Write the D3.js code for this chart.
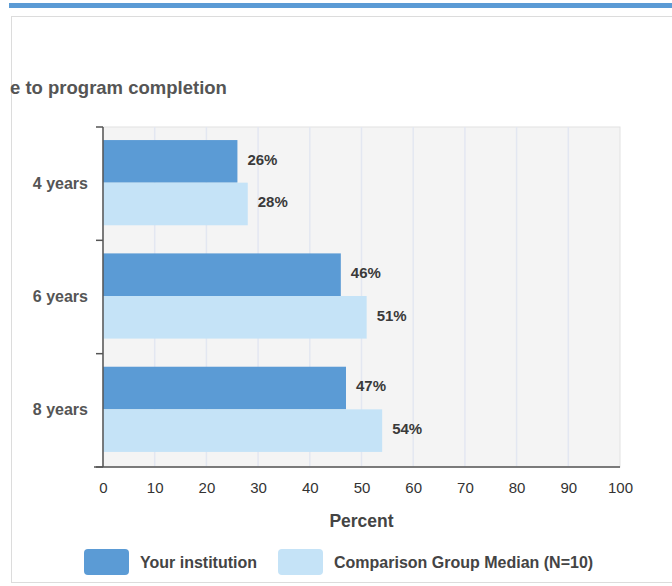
<!DOCTYPE html>
<html>
<head>
<meta charset="utf-8">
<script src="https://cdn.jsdelivr.net/npm/d3@7"></script>
<style>
  body { margin: 0; background: #fff; }
  svg { display: block; font-family: "Liberation Sans", Arial, sans-serif; }
</style>
</head>
<body>
<div id="chart"></div>
<script>
// dades
const categories = ['4 years', '6 years', '8 years'];
const seriesNames = ['Your institution', 'Comparison Group Median (N=10)'];
const institution = [26, 46, 47];
const comparison = [28, 51, 54];
const xTicks = [0, 10, 20, 30, 40, 50, 60, 70, 80, 90, 100];
const titleText = 'e to program completion';
const axisTitle = 'Percent';
const colors = ['#5b9bd5', '#c5e3f7'];

const W = 672, H = 586;
const svg = d3.select('#chart').append('svg').attr('width', W).attr('height', H);

// capçalera i marc
svg.append('rect').attr('x', 9).attr('y', 3).attr('width', W - 9).attr('height', 5).attr('fill', '#5b9bd5');
svg.append('rect').attr('x', 11.5).attr('y', 16.5).attr('width', W).attr('height', 566)
  .attr('fill', '#fff').attr('stroke', '#dcdcdc');

svg.append('text').attr('x', 10).attr('y', 94)
  .attr('font-size', 18.5).attr('font-weight', 'bold').attr('fill', '#555')
  .text(titleText);

// escales
const x = d3.scaleLinear().domain([0, 100]).range([103, 620]);
const y0 = d3.scaleBand().domain(categories).range([127, 467]).padding(0);
const y1 = d3.scaleBand().domain(seriesNames).range([0, y0.bandwidth()]).paddingInner(0).paddingOuter(0.33);

// fons del plànol
svg.append('rect').attr('x', x(0)).attr('y', y0.range()[0])
  .attr('width', x(100) - x(0)).attr('height', y0.range()[1] - y0.range()[0])
  .attr('fill', '#f4f4f4').attr('stroke', '#e2e2e2');

// graella
svg.append('g').selectAll('line').data(xTicks.slice(1, -1)).join('line')
  .attr('x1', d => x(d)).attr('x2', d => x(d))
  .attr('y1', y0.range()[0]).attr('y2', y0.range()[1])
  .attr('stroke', '#e3e7f1').attr('stroke-width', 1.5);

// barres
const rows = categories.map((c, i) => ({cat: c, vals: [institution[i], comparison[i]]}));
const grp = svg.append('g').selectAll('g').data(rows).join('g')
  .attr('transform', d => `translate(0,${y0(d.cat)})`);

grp.selectAll('rect').data(d => d.vals.map((v, j) => ({v, s: seriesNames[j], j}))).join('rect')
  .attr('x', x(0)).attr('y', d => y1(d.s) - 1)
  .attr('width', d => x(d.v) - x(0)).attr('height', y1.bandwidth())
  .attr('fill', d => colors[d.j]);

grp.selectAll('text').data(d => d.vals.map((v, j) => ({v, s: seriesNames[j], j}))).join('text')
  .attr('x', d => x(d.v) + 10).attr('y', d => y1(d.s) + y1.bandwidth() / 2 - 3)
  .attr('dy', '0.35em').attr('font-size', 15).attr('font-weight', 'bold').attr('fill', '#3a3a3a')
  .text(d => d.v + '%');

// eix Y
const yAxis = svg.append('g').attr('transform', `translate(${x(0)},0)`)
  .call(d3.axisLeft(y0).tickSize(0).tickPadding(15));
yAxis.select('.domain').remove();
yAxis.selectAll('text').attr('font-size', 16).attr('font-weight', 'bold').attr('fill', '#555');

svg.append('line').attr('x1', x(0)).attr('x2', x(0))
  .attr('y1', y0.range()[0]).attr('y2', y0.range()[1])
  .attr('stroke', '#555').attr('stroke-width', 1.5);
const bounds = categories.map(c => y0(c)).concat([y0.range()[1]]);
svg.append('g').selectAll('line').data(bounds).join('line')
  .attr('x1', x(0) - 7).attr('x2', x(0)).attr('y1', d => d).attr('y2', d => d)
  .attr('stroke', '#555').attr('stroke-width', 1.5);

// eix X
const xAxis = svg.append('g').attr('transform', `translate(0,${y0.range()[1]})`)
  .call(d3.axisBottom(x).tickValues(xTicks).tickSize(0).tickPadding(15));
xAxis.select('.domain').remove();
xAxis.selectAll('text').attr('font-size', 15).attr('fill', '#333');
svg.append('line').attr('x1', x(0) - 9).attr('x2', x(100))
  .attr('y1', y0.range()[1]).attr('y2', y0.range()[1])
  .attr('stroke', '#555').attr('stroke-width', 1.5);

svg.append('text').attr('x', (x(0) + x(100)) / 2).attr('y', 527)
  .attr('text-anchor', 'middle').attr('font-size', 17.5).attr('font-weight', 'bold').attr('fill', '#444')
  .text(axisTitle);

// llegenda
const legX = [84, 278];
const leg = svg.append('g').selectAll('g').data(seriesNames).join('g')
  .attr('transform', (d, i) => `translate(${legX[i]},549)`);
leg.append('rect').attr('width', 45).attr('height', 26).attr('rx', 4).attr('fill', (d, i) => colors[i]);
leg.append('text').attr('x', 56).attr('y', 13).attr('dy', '0.35em')
  .attr('font-size', 16).attr('font-weight', 'bold').attr('fill', '#444').text(d => d);
</script>
</body>
</html>
